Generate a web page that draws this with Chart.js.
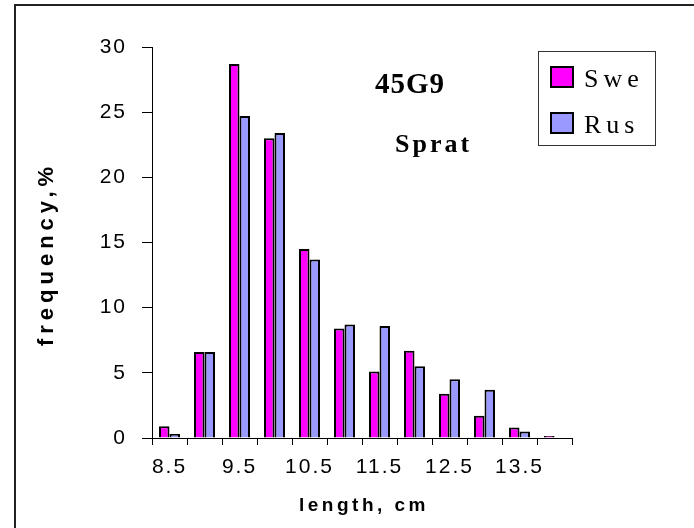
<!DOCTYPE html>
<html>
<head>
<meta charset="utf-8">
<script src="https://cdn.jsdelivr.net/npm/chart.js@4/dist/chart.umd.min.js"></script>
<style>
  body { margin: 0; background: #fff; }
</style>
</head>
<body>
<canvas id="chart" width="694" height="528"></canvas>
<script>
// length classes, cm
const lengths = ['8.5', '9', '9.5', '10', '10.5', '11', '11.5', '12', '12.5', '13', '13.5', '14'];
// frequency, %
const sweValues = [0.9, 6.6, 28.7, 23.0, 14.5, 8.4, 5.1, 6.7, 3.4, 1.7, 0.8, 0.15];
const rusValues = [0.3, 6.6, 24.7, 23.4, 13.7, 8.7, 8.6, 5.5, 4.5, 3.7, 0.5, 0];
const seriesNames = ['Swe', 'Rus'];
const yMin = 0, yMax = 30, yStep = 5;
const areaTitle = '45G9';
const speciesTitle = 'Sprat';

// extra text + frame + legend drawn by hand
const decor = {
  id: 'decor',
  beforeDraw(chart) {
    chart.ctx.letterSpacing = '2px';
  },
  afterDraw(chart) {
    const ctx = chart.ctx;
    ctx.save();

    // outer frame (only top and left visible)
    ctx.strokeStyle = '#222';
    ctx.lineWidth = 2;
    ctx.beginPath();
    ctx.moveTo(15, 528);
    ctx.lineTo(15, 5);
    ctx.lineTo(694, 5);
    ctx.stroke();

    ctx.fillStyle = '#000';
    ctx.textBaseline = 'alphabetic';

    // title texts
    ctx.letterSpacing = '1px';
    ctx.font = 'bold 29px "Liberation Serif"';
    ctx.textAlign = 'left';
    ctx.fillText(areaTitle, 375, 93);
    ctx.letterSpacing = '3px';
    ctx.font = 'bold 26px "Liberation Serif"';
    ctx.fillText(speciesTitle, 395, 152);

    // axis titles
    ctx.letterSpacing = '3.5px';
    ctx.font = 'bold 19px "Liberation Sans"';
    ctx.textAlign = 'center';
    ctx.fillText('length, cm', 364, 511);

    ctx.save();
    ctx.translate(53, 256);
    ctx.rotate(-Math.PI / 2);
    ctx.letterSpacing = '5px';
    ctx.font = 'bold 22px "Liberation Sans"';
    ctx.fillText('frequency,%', 2, 0);
    ctx.restore();

    // legend
    ctx.letterSpacing = '5px';
    ctx.strokeStyle = '#333';
    ctx.lineWidth = 1;
    ctx.strokeRect(538.5, 51.5, 117, 94);
    ctx.font = '26px "Liberation Serif"';
    ctx.textAlign = 'left';
    chart.data.datasets.forEach((ds, i) => {
      const y = 67 + i * 46;
      ctx.fillStyle = ds.backgroundColor;
      ctx.fillRect(551, y, 22, 20);
      ctx.strokeStyle = '#000';
      ctx.lineWidth = 2;
      ctx.strokeRect(551, y, 22, 20);
      ctx.fillStyle = '#000';
      ctx.fillText(ds.label, 584, y + 20);
    });

    ctx.restore();
  }
};

new Chart(document.getElementById('chart'), {
  type: 'bar',
  data: {
    labels: lengths,
    datasets: [
      {
        label: seriesNames[0],
        data: sweValues,
        backgroundColor: '#FF00FF',
        borderColor: '#000',
        borderWidth: 2
      },
      {
        label: seriesNames[1],
        data: rusValues,
        backgroundColor: '#9999FF',
        borderColor: '#000',
        borderWidth: 2
      }
    ]
  },
  options: {
    responsive: false,
    animation: false,
    devicePixelRatio: 1,
    layout: { padding: { top: 47, right: 122, left: 0, bottom: 0 } },
    datasets: { bar: { categoryPercentage: 0.6, barPercentage: 1.0 } },
    plugins: {
      legend: { display: false },
      title: { display: false },
      tooltip: { enabled: false }
    },
    scales: {
      x: {
        afterFit(scale) { scale.height = 90; },
        grid: {
          offset: true,
          drawOnChartArea: false,
          drawTicks: true,
          tickLength: 7,
          color: '#000'
        },
        border: { color: '#000', width: 1 },
        ticks: {
          autoSkip: false,
          maxRotation: 0,
          padding: 10,
          color: '#000',
          font: { family: 'Liberation Sans', size: 21 },
          callback: function(value, index) {
            return index % 2 === 0 ? this.getLabelForValue(value) : '';
          }
        }
      },
      y: {
        min: yMin,
        max: yMax,
        afterFit(scale) { scale.width = 152; },
        grid: {
          drawOnChartArea: false,
          drawTicks: true,
          tickLength: 10,
          color: '#000'
        },
        border: { color: '#000', width: 1 },
        ticks: {
          stepSize: yStep,
          padding: 15,
          color: '#000',
          font: { family: 'Liberation Sans', size: 21 }
        }
      }
    }
  },
  plugins: [decor]
});
</script>
</body>
</html>
